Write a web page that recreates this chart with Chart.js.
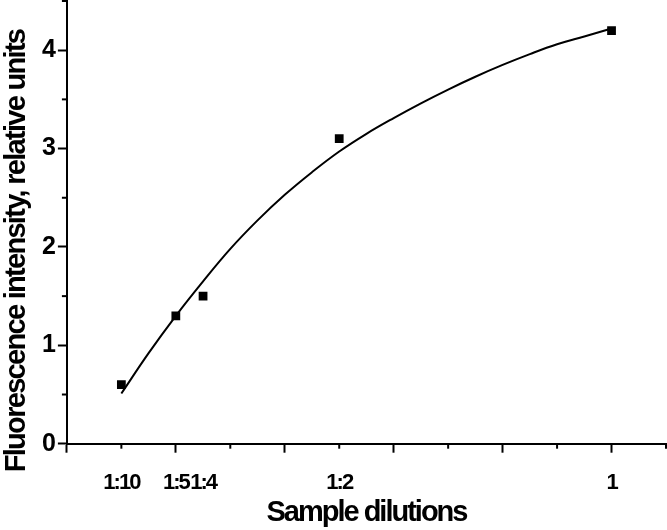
<!DOCTYPE html>
<html>
<head>
<meta charset="utf-8">
<script src="https://cdn.jsdelivr.net/npm/chart.js@4.4.1/dist/chart.umd.min.js"></script>
<style>
  html, body { margin: 0; padding: 0; background: #fff; }
  #wrap { width: 667px; height: 530px; position: relative; }
</style>
</head>
<body>
<div id="wrap"><canvas id="chart"></canvas></div>
<script>
// measured points (dilution as fraction of sample)
const dilutionValues = [0.1, 0.2, 0.25, 0.5, 1.0];
const dilutionLabels = ['1:10', '1:5', '1:4', '1:2', '1'];
const intensity = [0.6, 1.3, 1.5, 3.1, 4.2];

// fitted curve
const fitX = [0.1, 0.15, 0.2, 0.25, 0.3, 0.35, 0.4, 0.45, 0.5, 0.55, 0.6, 0.65, 0.7, 0.75, 0.8, 0.85, 0.9, 0.95, 1.0];
const fitY = [0.51, 0.92, 1.30, 1.65, 1.98, 2.27, 2.53, 2.76, 2.97, 3.15, 3.31, 3.46, 3.60, 3.73, 3.85, 3.96, 4.06, 4.14, 4.22];

// axis ticks
const xMajorTicks = [0, 0.2, 0.4, 0.6, 0.8, 1.0];
const xMinorTicks = [0.1, 0.3, 0.5, 0.7, 0.9, 1.1];
const yMajorTicks = [0, 1, 2, 3, 4];
const yMinorTicks = [0.5, 1.5, 2.5, 3.5, 4.5];

const yTitle = 'Fluorescence intensity, relative units';
const FONT = "'Liberation Sans', Arial, sans-serif";

// original uses a narrow bold face, squeeze the letters a bit
const narrowText = {
  id: 'narrowText',
  beforeDraw(chart) { chart.ctx.letterSpacing = '-2px'; },
  afterDraw(chart) { chart.ctx.letterSpacing = '0px'; }
};

// short ticks between the labelled ones
const minorTicks = {
  id: 'minorTicks',
  afterDraw(chart) {
    const ctx = chart.ctx;
    const xs = chart.scales.x, ys = chart.scales.y;
    ctx.save();
    ctx.strokeStyle = '#000';
    ctx.lineWidth = 2;
    xMinorTicks.forEach(v => {
      const px = xs.getPixelForValue(v);
      ctx.beginPath();
      ctx.moveTo(px, xs.top);
      ctx.lineTo(px, xs.top + 5);
      ctx.stroke();
    });
    yMinorTicks.forEach(v => {
      const py = ys.getPixelForValue(v);
      ctx.beginPath();
      ctx.moveTo(ys.right, py);
      ctx.lineTo(ys.right - 5, py);
      ctx.stroke();
    });
    ctx.restore();
  }
};

// y title sits lower than the axis centre in the original
const sideTitle = {
  id: 'sideTitle',
  afterDraw(chart) {
    const ctx = chart.ctx;
    ctx.save();
    ctx.translate(17, 251);
    ctx.rotate(-Math.PI / 2);
    ctx.letterSpacing = '-1.7px';
    ctx.font = 'bold 29px ' + FONT;
    ctx.fillStyle = '#000';
    ctx.textAlign = 'center';
    ctx.textBaseline = 'middle';
    ctx.fillText(yTitle, 0, 0);
    ctx.restore();
  }
};

const xTickValues = [...new Set([...xMajorTicks, ...dilutionValues])].sort((a, b) => a - b);

new Chart(document.getElementById('chart'), {
  type: 'scatter',
  data: {
    datasets: [
      {
        label: 'fit',
        type: 'line',
        data: fitX.map((x, i) => ({ x: x, y: fitY[i] })),
        borderColor: '#000',
        borderWidth: 2,
        pointRadius: 0,
        fill: false,
        tension: 0.4
      },
      {
        label: 'measured',
        data: dilutionValues.map((x, i) => ({ x: x, y: intensity[i] })),
        pointStyle: 'rect',
        pointRadius: 6.2,
        backgroundColor: '#000',
        borderColor: '#000',
        borderWidth: 0
      }
    ]
  },
  options: {
    responsive: true,
    maintainAspectRatio: false,
    animation: false,
    layout: { autoPadding: false, padding: { top: 1, right: 1, left: 36, bottom: 1 } },
    plugins: { legend: { display: false }, tooltip: { enabled: false } },
    scales: {
      x: {
        type: 'linear',
        min: 0,
        max: 1.1,
        afterBuildTicks: s => { s.ticks = xTickValues.map(v => ({ value: v })); },
        afterFit: s => { s.paddingLeft = 0; s.paddingRight = 0; },
        border: { color: '#000', width: 2 },
        grid: {
          drawOnChartArea: false,
          tickLength: 9,
          tickWidth: 2,
          tickColor: c => xMajorTicks.includes(c.tick.value) ? '#000' : 'rgba(0,0,0,0)'
        },
        ticks: {
          autoSkip: false,
          maxRotation: 0,
          padding: 17,
          color: '#000',
          font: { family: FONT, size: 22, weight: 'bold', lineHeight: 1.2 },
          callback: v => {
            const i = dilutionValues.indexOf(v);
            return i >= 0 ? dilutionLabels[i] : '';
          }
        },
        title: {
          display: true,
          text: 'Sample dilutions',
          color: '#000',
          padding: { top: -16, bottom: 0 },
          font: { family: FONT, size: 29, weight: 'bold', lineHeight: 1.1 }
        }
      },
      y: {
        type: 'linear',
        min: 0,
        max: 4.5,
        afterBuildTicks: s => { s.ticks = yMajorTicks.map(v => ({ value: v })); },
        afterFit: s => { s.paddingTop = 0; s.paddingBottom = 0; },
        border: { color: '#000', width: 2 },
        grid: {
          drawOnChartArea: false,
          tickLength: 9,
          tickWidth: 2,
          tickColor: '#000'
        },
        ticks: {
          padding: 4,
          color: '#000',
          font: { family: FONT, size: 25, weight: 'bold' }
        }
      }
    }
  },
  plugins: [narrowText, minorTicks, sideTitle]
});
</script>
</body>
</html>
